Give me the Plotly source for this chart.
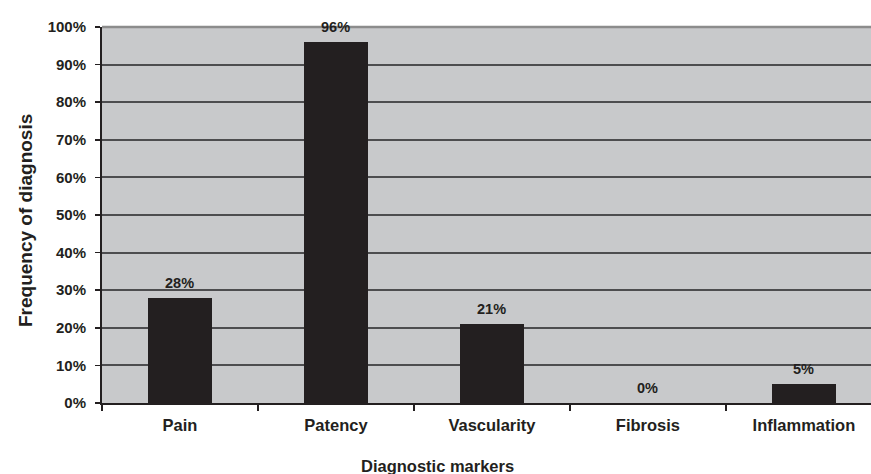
import plotly.graph_objects as go

categories = ["Pain", "Patency", "Vascularity", "Fibrosis", "Inflammation"]
values = [0.28, 0.96, 0.21, 0.0, 0.05]
labels = ["28%", "96%", "21%", "0%", "5%"]
y_ticks = [i / 10 for i in range(11)]
y_tick_labels = [f"{i * 10}%" for i in range(11)]

W, H = 871, 474
L, R, T, B = 102, 0, 27, 71
pw, ph = W - L - R, H - T - B

FONT = "Liberation Sans, Arial, sans-serif"

fig = go.Figure()
fig.add_trace(go.Bar(
    x=categories, y=values, width=0.405,
    marker=dict(color="#231f20", line=dict(width=0)),
    hoverinfo="skip",
))

annotations = []
for c, v, t in zip(categories, values, labels):
    annotations.append(dict(
        x=c, y=v, xref="x", yref="y", text=f"<b>{t}</b>", showarrow=False,
        yanchor="bottom", yshift=5,
        font=dict(family=FONT, size=14.5, color="#231f20"),
    ))

def px_x(sx):
    return (sx - L) / pw

def px_y(sy):
    return (H - B - sy) / ph

annotations.append(dict(
    x=px_x(437), y=px_y(466), xref="paper", yref="paper",
    text="<b>Diagnostic markers</b>", showarrow=False,
    xanchor="center", yanchor="middle",
    font=dict(family=FONT, size=16.5, color="#231f20"),
))
annotations.append(dict(
    x=px_x(25), y=px_y(221), xref="paper", yref="paper",
    text="<b>Frequency of diagnosis</b>", showarrow=False, textangle=-90,
    xanchor="center", yanchor="middle",
    font=dict(family=FONT, size=19, color="#231f20"),
))

fig.update_layout(
    width=W, height=H,
    margin=dict(l=L, r=R, t=T, b=B, pad=0),
    paper_bgcolor="white", plot_bgcolor="#c8c9cb",
    showlegend=False, bargap=0,
    annotations=annotations,
    shapes=[dict(type="line", xref="paper", yref="paper",
                 x0=0, x1=1, y0=1, y1=1,
                 line=dict(color="#8c8c8c", width=2.5), layer="above")],
)

fig.update_xaxes(
    type="category", categoryorder="array", categoryarray=categories,
    range=[-0.5, len(categories) - 0.5 - 0.07],
    showgrid=False, zeroline=False,
    showline=True, linecolor="#231f20", linewidth=2,
    ticks="outside", tickson="boundaries", ticklen=6, tickwidth=1.5, tickcolor="#231f20",
    ticklabelstandoff=6,
    tickfont=dict(family=FONT, size=16.5, color="#231f20", weight="bold"),
)
fig.update_yaxes(
    range=[0, 1], tickvals=y_ticks, ticktext=y_tick_labels,
    showgrid=True, gridcolor="#4d4d4f", gridwidth=2,
    zeroline=False,
    showline=True, linecolor="#231f20", linewidth=2,
    ticks="outside", ticklen=5, tickwidth=1.5, tickcolor="#231f20",
    ticklabelstandoff=6,
    tickfont=dict(family=FONT, size=15, color="#231f20", weight="bold"),
)

fig.write_html(
    "out.html",
    config={"displayModeBar": False, "staticPlot": True},
    post_script="document.body.style.margin='0';document.body.style.overflow='hidden';",
)
